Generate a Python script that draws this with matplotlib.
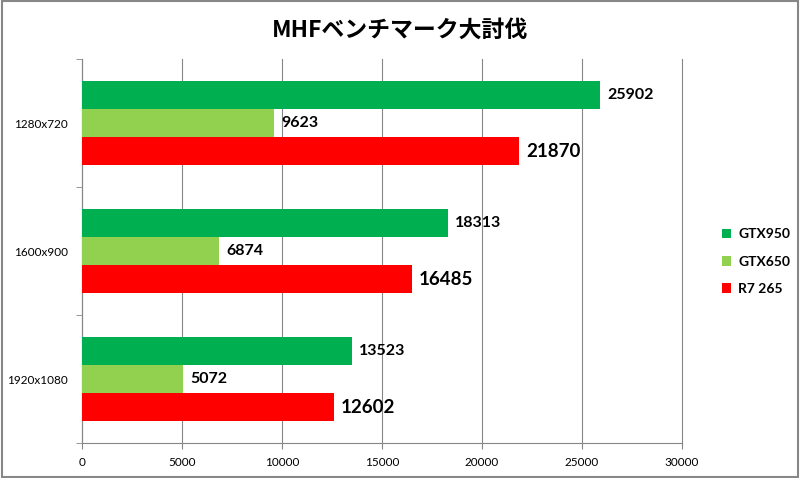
import matplotlib
matplotlib.use("Agg")
import matplotlib.pyplot as plt
from matplotlib.patches import Rectangle
import numpy as np

categories = ["1280x720", "1600x900", "1920x1080"]
series_names = ["GTX950", "GTX650", "R7 265"]
gtx950 = [25902, 18313, 13523]
gtx650 = [9623, 6874, 5072]
r7_265 = [21870, 16485, 12602]
x_ticks = [0, 5000, 10000, 15000, 20000, 25000, 30000]

colors = ["#00B050", "#92D050", "#FF0000"]
label_sizes = [11.5, 11.5, 13.5]

plt.rcParams['font.family'] = ['Lato', 'DejaVu Sans']

fig = plt.figure(figsize=(8, 4.78), dpi=100)
ax = fig.add_axes([82 / 800, 35 / 478, 600 / 800, 384 / 478])

bar_h = 0.221
y = np.arange(len(categories))
for i, (name, values) in enumerate(zip(series_names, [gtx950, gtx650, r7_265])):
    pos = y + (i - 1) * bar_h
    bars = ax.barh(pos, values, height=bar_h, color=colors[i], label=name, zorder=3)
    for b, v in zip(bars, values):
        ax.annotate(str(v), (v, b.get_y() + b.get_height() / 2),
                    xytext=(5, 0), textcoords="offset points",
                    va="center", ha="left", fontsize=label_sizes[i],
                    fontweight="bold", color="black")

ax.set_xlim(0, 30000)
ax.set_ylim(2.5, -0.5)
ax.set_xticks(x_ticks)
ax.set_xticklabels([str(t) for t in x_ticks], fontsize=8.5)
ax.set_yticks(y)
ax.set_yticklabels(categories, fontsize=8.5)
ax.set_yticks([-0.5, 0.5, 1.5, 2.5], minor=True)
ax.tick_params(axis="y", which="major", length=0, pad=10)
ax.tick_params(axis="y", which="minor", length=4, color="#868686")
ax.tick_params(axis="x", length=4, color="#868686", pad=6)

ax.grid(axis="x", color="#868686", linewidth=0.8, zorder=0)
for line in ax.get_xgridlines():
    line.set_clip_on(False)
for s in ["top", "right"]:
    ax.spines[s].set_visible(False)
for s in ["left", "bottom"]:
    ax.spines[s].set_color("#868686")
    ax.spines[s].set_linewidth(0.8)

ax.legend(loc="center left", bbox_to_anchor=(1.045, 0.472), frameon=False,
          handlelength=0.7, handleheight=0.7, handletextpad=0.5,
          labelspacing=1.1, prop={"size": 10, "weight": "bold"})

fig.text(0.5, 0.937, "MHFベンチマーク大討伐", ha="center", va="center",
         fontsize=16.5, fontweight="bold",
         family=["Noto Sans CJK JP", "DejaVu Sans"])

fig.patches.append(Rectangle((0.002, 0.003), 0.996, 0.994, transform=fig.transFigure,
                             fill=False, edgecolor="#878787", linewidth=1.5))

fig.savefig("out.png", dpi=100)
